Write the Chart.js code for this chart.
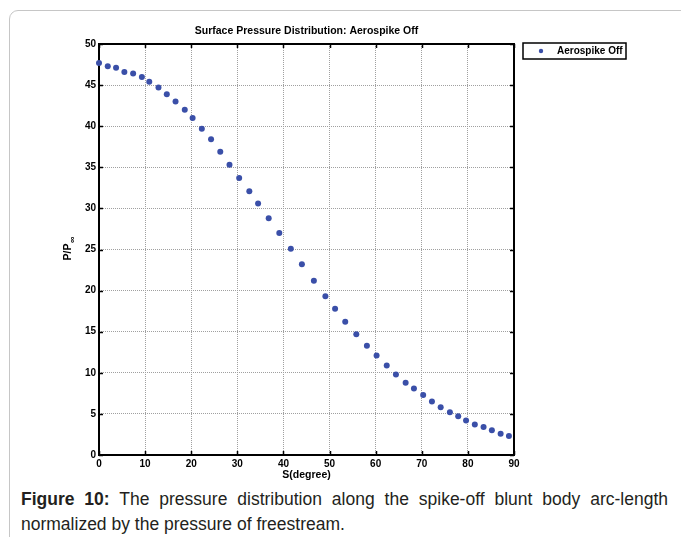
<!DOCTYPE html>
<html>
<head>
<meta charset="utf-8">
<title>Surface Pressure Distribution</title>
<script src="https://cdn.jsdelivr.net/npm/chart.js@4.4.1/dist/chart.umd.min.js"></script>
<style>
    body {
        margin: 0;
        width: 681px;
        height: 537px;
        overflow: hidden;
        position: relative;
        background: #fff;
        font-family: "Liberation Sans", Arial, Helvetica, sans-serif;
    }
    .panel {
        position: absolute;
        left: 9px;
        top: 10px;
        width: 720px;
        height: 600px;
        border: 1px solid #c6c6c6;
        border-radius: 9px;
    }
    #pressureChart {
        position: absolute;
        left: 0;
        top: 0;
    }
    .caption {
        position: absolute;
        left: 21px;
        top: 487px;
        width: 647px;
        font-size: 17.5px;
        line-height: 25px;
        color: #231f20;
    }
    .caption .first {
        text-align: justify;
        text-align-last: justify;
        white-space: nowrap;
    }
</style>
</head>
<body>
<div class="panel"></div>
<canvas id="pressureChart" width="681" height="482"></canvas>
<div class="caption">
    <div class="first"><b>Figure 10:</b> The pressure distribution along the spike-off blunt body arc-length</div>
    <div>normalized by the pressure of freestream.</div>
</div>

<script>
// Arc-length position along the body (degrees)
const sDeg = [0, 1.9, 3.7, 5.5, 7.4, 9.3, 10.9, 12.9, 14.7, 16.6,
              18.6, 20.3, 22.3, 24.3, 26.3, 28.3, 30.4, 32.6, 34.5, 36.8,
              39.1, 41.6, 44.0, 46.6, 49.1, 51.2, 53.4, 55.8, 58.1, 60.2,
              62.4, 64.4, 66.5, 68.3, 70.3, 72.2, 74.1, 76.1, 77.9, 79.6,
              81.5, 83.4, 85.2, 87.1, 88.9];

// Surface pressure normalised by freestream pressure
const pRatio = [47.7, 47.3, 47.1, 46.6, 46.4, 46.0, 45.4, 44.7, 43.9, 43.0,
                42.0, 41.0, 39.7, 38.4, 36.9, 35.3, 33.7, 32.1, 30.6, 28.8,
                27.0, 25.1, 23.2, 21.2, 19.3, 17.8, 16.2, 14.7, 13.3, 12.1,
                10.9, 9.8, 8.8, 8.1, 7.3, 6.5, 5.8, 5.2, 4.7, 4.2,
                3.7, 3.4, 3.0, 2.6, 2.3];

const xTicks = [0, 10, 20, 30, 40, 50, 60, 70, 80, 90];
const yTicks = [0, 5, 10, 15, 20, 25, 30, 35, 40, 45, 50];

const seriesName = 'Aerospike Off';
const chartTitle = 'Surface Pressure Distribution: Aerospike Off';
const xTitle = 'S(degree)';

const FONT = "'Liberation Sans', Arial, Helvetica, sans-serif";
const DOT = '#3a4fa8';

// Box frame with inward ticks, the legend box and the P/P∞ label
const matlabFrame = {
    id: 'matlabFrame',
    beforeDatasetsDraw(chart) {
        const { ctx, chartArea: a, scales: { x, y } } = chart;
        ctx.save();
        ctx.strokeStyle = '#000';
        ctx.lineWidth = 2;
        ctx.strokeRect(a.left, a.top, a.right - a.left, a.bottom - a.top);

        ctx.lineWidth = 1.5;
        ctx.beginPath();
        x.ticks.forEach(t => {
            const px = Math.round(x.getPixelForValue(t.value)) + 0.5;
            ctx.moveTo(px, a.bottom); ctx.lineTo(px, a.bottom - 4);
            ctx.moveTo(px, a.top); ctx.lineTo(px, a.top + 4);
        });
        y.ticks.forEach(t => {
            const py = Math.round(y.getPixelForValue(t.value)) + 0.5;
            ctx.moveTo(a.left, py); ctx.lineTo(a.left + 4, py);
            ctx.moveTo(a.right, py); ctx.lineTo(a.right - 4, py);
        });
        ctx.stroke();
        ctx.restore();
    },
    afterDraw(chart) {
        const { ctx, chartArea: a } = chart;
        ctx.save();

        // legend
        const lx = a.right + 9, ly = a.top - 1, lw = 103, lh = 16;
        ctx.fillStyle = '#fff';
        ctx.fillRect(lx, ly, lw, lh);
        ctx.strokeStyle = '#000';
        ctx.lineWidth = 1.5;
        ctx.strokeRect(lx, ly, lw, lh);
        ctx.fillStyle = DOT;
        ctx.beginPath();
        ctx.arc(lx + 18, ly + 8, 2.2, 0, Math.PI * 2);
        ctx.fill();
        ctx.fillStyle = '#000';
        ctx.font = 'bold 10px ' + FONT;
        ctx.textBaseline = 'middle';
        ctx.textAlign = 'left';
        ctx.fillText(chart.data.datasets[0].label, lx + 34, ly + 8.5);

        // y axis label with subscript infinity
        ctx.translate(68, 252);
        ctx.rotate(-Math.PI / 2);
        ctx.font = 'bold 10.5px ' + FONT;
        ctx.textAlign = 'center';
        ctx.fillText('P/P', 0, 0);
        const w = ctx.measureText('P/P').width;
        ctx.font = 'bold 9px ' + FONT;
        ctx.textAlign = 'left';
        ctx.fillText('∞', w / 2 + 0.5, 4.5);
        ctx.restore();
    }
};

const ctx = document.getElementById('pressureChart').getContext('2d');

new Chart(ctx, {
    type: 'scatter',
    data: {
        datasets: [{
            label: seriesName,
            data: sDeg.map((s, i) => ({ x: s, y: pRatio[i] })),
            backgroundColor: DOT,
            borderColor: DOT,
            pointRadius: 3,
            pointBorderWidth: 0,
            clip: false
        }]
    },
    options: {
        responsive: false,
        animation: false,
        layout: { padding: { left: 0, right: 167, top: 0, bottom: 0 } },
        plugins: {
            legend: { display: false },
            tooltip: { enabled: false },
            title: {
                display: true,
                text: chartTitle,
                fullSize: false,
                color: '#000',
                font: { family: FONT, size: 10.5, weight: 'bold', lineHeight: 1.2 },
                padding: { top: 25, bottom: 6.4 }
            }
        },
        scales: {
            x: {
                type: 'linear',
                min: 0,
                max: 90,
                afterBuildTicks: s => { s.ticks = xTicks.map(v => ({ value: v })); },
                afterFit: s => { s.height = 27; },
                grid: { color: '#a0a0a0', lineWidth: 1, drawTicks: false },
                border: { display: false, dash: [1, 1] },
                ticks: {
                    color: '#000',
                    padding: 3,
                    maxRotation: 0,
                    font: { family: FONT, size: 10, weight: 'bold' }
                },
                title: {
                    display: true,
                    text: xTitle,
                    color: '#000',
                    padding: { top: 0, bottom: 1 },
                    font: { family: FONT, size: 10.5, weight: 'bold', lineHeight: 1.2 }
                }
            },
            y: {
                type: 'linear',
                min: 0,
                max: 50,
                afterBuildTicks: s => { s.ticks = yTicks.map(v => ({ value: v })); },
                afterFit: s => { s.width = 99; },
                grid: { color: '#a0a0a0', lineWidth: 1, drawTicks: false },
                border: { display: false, dash: [1, 1] },
                ticks: {
                    color: '#000',
                    padding: 3,
                    font: { family: FONT, size: 10, weight: 'bold' }
                }
            }
        }
    },
    plugins: [matlabFrame]
});
</script>
</body>
</html>
